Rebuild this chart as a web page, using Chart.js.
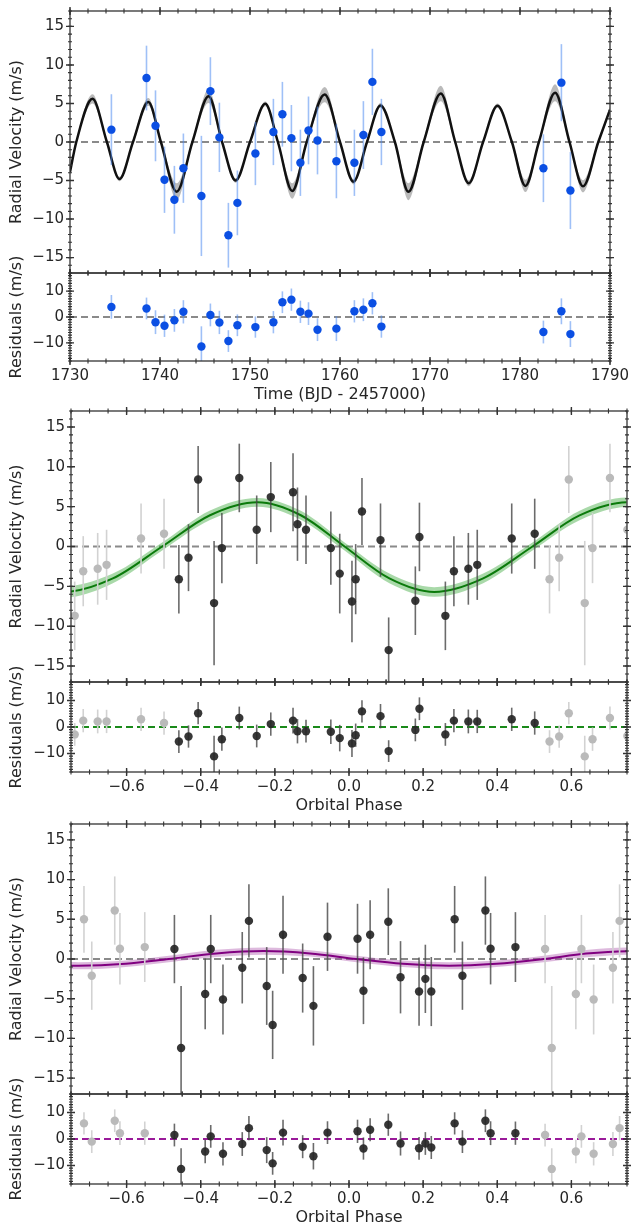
<!DOCTYPE html>
<html>
<head>
<meta charset="utf-8">
<script src="https://cdn.jsdelivr.net/npm/chart.js@4.4.0/dist/chart.umd.min.js"></script>
<style>
  body { margin: 0; background: #fff; }
  #wrap { position: relative; width: 632px; height: 1227px; overflow: hidden; }
  canvas { position: absolute; left: 0; }
</style>
</head>
<body>
<div id="wrap">
  <canvas id="rvTime"></canvas>
  <canvas id="resTime"></canvas>
  <canvas id="rvB"></canvas>
  <canvas id="resB"></canvas>
  <canvas id="rvC"></canvas>
  <canvas id="resC"></canvas>
</div>
<script>
// ---- top panel: RV vs time ----
const timeT = [1734.6, 1738.5, 1739.5, 1740.5, 1741.6, 1742.6, 1744.6, 1745.6, 1746.6, 1747.6, 1748.6, 1750.6, 1752.6,
  1753.6, 1754.6, 1755.6, 1756.5, 1757.5, 1759.6, 1761.6, 1762.6, 1763.6, 1764.6, 1782.6, 1784.6, 1785.6];
const timeRV = [1.6, 8.3, 2.1, -4.9, -7.5, -3.4, -7.0, 6.6, 0.6, -12.1, -7.9, -1.5, 1.3,
  3.6, 0.5, -2.7, 1.5, 0.2, -2.5, -2.7, 0.9, 7.8, 1.3, -3.4, 7.7, -6.3];
const timeErr = [4.6, 4.2, 4.6, 4.3, 4.4, 4.5, 7.8, 4.4, 4.5, 4.2, 4.2, 4.1, 4.3,
  4.2, 4.3, 4.3, 4.4, 4.4, 4.8, 4.3, 4.4, 4.3, 4.3, 4.4, 5.0, 5.0];
const timeRes = [3.9, 3.3, -2.0, -3.4, -1.3, 2.0, -11.4, 0.8, -2.1, -9.3, -3.2, -3.9, -2.0,
  5.7, 6.7, 2.0, 1.3, -4.9, -4.5, 2.2, 2.8, 5.3, -3.7, -5.8, 2.2, -6.6];

// two-planet model (extrema and zero crossings)
const modelT = [1730, 1730.7, 1732.5, 1734.1, 1735.5, 1737.0, 1738.7, 1740.1, 1741.85, 1743.6, 1745.4, 1746.9, 1748.4,
  1750.0, 1751.7, 1753.1, 1754.7, 1756.3, 1758.3, 1760.0, 1761.5, 1763.0, 1764.5, 1766.1, 1767.6, 1769.3, 1771.2,
  1772.8, 1774.3, 1775.9, 1777.5, 1779.1, 1780.6, 1782.1, 1783.9, 1785.5, 1787.0, 1788.7, 1790];
const modelRV = [-3.9, 0, 5.6, 0, -4.8, 0, 5.2, 0, -6.45, 0, 5.95, 0, -5.0,
  0, 4.95, 0, -6.35, 0, 6.15, 0, -5.15, 0, 4.75, 0, -6.45, 0, 6.3,
  0, -5.35, 0, 4.7, 0, -5.7, 0, 6.4, 0, -5.75, 0, 4.2];
const modelBand = [0.4, 0.3, 0.6, 0.3, 0.3, 0.3, 0.5, 0.3, 1.1, 0.3, 0.9, 0.3, 0.3,
  0.3, 0.3, 0.3, 1.0, 0.3, 1.0, 0.3, 0.35, 0.3, 0.3, 0.3, 1.1, 0.3, 1.0,
  0.3, 0.4, 0.3, 0.3, 0.3, 0.8, 0.3, 1.1, 0.3, 0.8, 0.3, 0.4];

// ---- middle panel: phase fold, planet b ----
const phaseB = [-0.459, -0.433, -0.407, -0.364, -0.343, -0.296, -0.249, -0.211, -0.151, -0.139, -0.116, -0.049, -0.025,
  0.008, 0.018, 0.035, 0.085, 0.107, 0.179, 0.190, 0.260, 0.283, 0.322, 0.346, 0.439, 0.501];
const rvB = [-4.1, -1.4, 8.4, -7.1, -0.2, 8.6, 2.1, 6.2, 6.8, 2.8, 2.1, -0.2, -3.4,
  -6.9, -4.1, 4.4, 0.8, -13.0, -6.8, 1.2, -8.7, -3.1, -2.8, -2.3, 1.0, 1.6];
const errB = [4.3, 4.2, 4.2, 7.8, 4.4, 4.3, 4.3, 4.4, 4.9, 4.6, 4.3, 4.6, 5.0,
  5.1, 4.4, 4.2, 4.6, 4.1, 4.3, 4.3, 4.3, 4.4, 4.5, 4.4, 4.4, 4.4];
const resB = [-5.5, -3.6, 5.2, -11.1, -4.6, 3.4, -3.4, 1.1, 2.4, -1.6, -1.6, -1.8, -4.2,
  -6.2, -3.1, 5.9, 4.1, -9.1, -1.1, 6.9, -2.8, 2.4, 2.1, 2.1, 2.9, 1.5];
// model b read at its extrema, zero crossings and half-way points (first/last lie outside the axis)
const modelPhaseB = [-0.891, -0.77, -0.637, -0.504, -0.375, -0.247, -0.13, -0.012, 0.109, 0.23, 0.362, 0.495, 0.622, 0.753, 0.87];
const modelRvB = [-4.0, -5.7, -4.0, 0, 3.92, 5.55, 3.92, 0, -4.0, -5.7, -4.0, 0, 3.9, 5.55, 3.92];
const modelBandB = [0.6, 0.7, 0.6, 0.5, 0.6, 0.55, 0.55, 0.5, 0.6, 0.6, 0.6, 0.5, 0.6, 0.6, 0.55];

// ---- bottom panel: phase fold, planet c ----
const phaseC = [-0.471, -0.453, -0.388, -0.373, -0.340, -0.288, -0.270, -0.222, -0.206, -0.178, -0.125, -0.096, -0.058,
  0.023, 0.039, 0.057, 0.106, 0.139, 0.189, 0.206, 0.222, 0.285, 0.306, 0.368, 0.382, 0.449];
const rvC = [1.25, -11.2, -4.4, 1.25, -5.1, -1.1, 4.8, -3.4, -8.3, 3.05, -2.4, -5.9, 2.8,
  2.55, -4.0, 3.05, 4.7, -2.3, -4.1, -2.5, -4.1, 5.0, -2.1, 6.1, 1.3, 1.5];
const errC = [4.3, 7.8, 4.45, 4.3, 4.4, 4.5, 4.6, 4.9, 4.3, 4.9, 4.35, 5.0, 4.3,
  4.4, 4.2, 4.35, 4.2, 4.55, 4.3, 4.3, 4.35, 4.2, 4.3, 4.3, 4.5, 4.4];
const resC = [1.5, -11.3, -4.7, 1.0, -5.6, -1.9, 4.1, -4.2, -9.2, 2.4, -2.9, -6.5, 2.4,
  2.9, -3.6, 3.5, 5.4, -1.7, -3.5, -1.7, -3.2, 5.9, -1.0, 6.9, 2.2, 2.2];
const modelPhaseC = [-0.855, -0.73, -0.602, -0.486, -0.358, -0.23, -0.105, 0.02, 0.145, 0.27, 0.398, 0.525, 0.64, 0.77, 0.895];
const modelRvC = [-0.6, -0.85, -0.6, 0, 0.7, 1.0, 0.7, 0, -0.6, -0.85, -0.6, 0, 0.68, 1.0, 0.7];
const modelBandC = [0.4, 0.45, 0.4, 0.4, 0.45, 0.45, 0.4, 0.4, 0.4, 0.45, 0.4, 0.4, 0.45, 0.45, 0.4];

// ticks
const timeTicks = [1730, 1740, 1750, 1760, 1770, 1780, 1790];
const timeTickLabels = ['1730', '1740', '1750', '1760', '1770', '1780', '1790'];
const phaseTicks = [-0.6, -0.4, -0.2, 0.0, 0.2, 0.4, 0.6];
const phaseTickLabels = ['\u22120.6', '\u22120.4', '\u22120.2', '0.0', '0.2', '0.4', '0.6'];
const rvTicks = [-15, -10, -5, 0, 5, 10, 15];
const rvTickLabels = ['\u221215', '\u221210', '\u22125', '0', '5', '10', '15'];
const resTicks = [-10, 0, 10];
const resTickLabels = ['\u221210', '0', '10'];

Chart.defaults.font.family = "'DejaVu Sans', sans-serif";
Chart.defaults.font.size = 15;
Chart.defaults.color = '#262626';

// box + in/out ticks on all four sides
const framePlugin = {
  id: 'frame',
  afterDraw(chart, args, o) {
    const { ctx, chartArea: a, scales: { x, y } } = chart;
    ctx.save();
    ctx.strokeStyle = '#333';
    ctx.lineWidth = 1.3;
    ctx.strokeRect(a.left, a.top, a.right - a.left, a.bottom - a.top);
    ctx.lineWidth = 1.1;
    const steps = (min, max, step) => {
      const out = [];
      for (let n = Math.ceil(min / step - 1e-6); n <= Math.floor(max / step + 1e-6); n++) out.push(n * step);
      return out;
    };
    const xt = (v, len) => {
      const px = x.getPixelForValue(v);
      ctx.beginPath();
      ctx.moveTo(px, a.top - len); ctx.lineTo(px, a.top + len);
      ctx.moveTo(px, a.bottom - len); ctx.lineTo(px, a.bottom + len);
      ctx.stroke();
    };
    const yt = (v, len) => {
      const py = y.getPixelForValue(v);
      ctx.beginPath();
      ctx.moveTo(a.left - len, py); ctx.lineTo(a.left + len, py);
      ctx.moveTo(a.right - len, py); ctx.lineTo(a.right + len, py);
      ctx.stroke();
    };
    steps(x.min, x.max, o.xMinor).forEach(v => xt(v, 2.5));
    steps(y.min, y.max, o.yMinor).forEach(v => yt(v, 2));
    ctx.lineWidth = 1.4;
    o.xMajor.forEach(v => xt(v, 4));
    o.yMajor.forEach(v => yt(v, 4));
    ctx.restore();
  }
};

const zeroPlugin = {
  id: 'zeroLine',
  beforeDatasetsDraw(chart, args, o) {
    const { ctx, chartArea: a, scales: { y } } = chart;
    const py = y.getPixelForValue(0);
    ctx.save();
    ctx.strokeStyle = o.color;
    ctx.lineWidth = o.width;
    ctx.setLineDash([7, 4]);
    ctx.beginPath();
    ctx.moveTo(a.left, py); ctx.lineTo(a.right, py);
    ctx.stroke();
    ctx.restore();
  }
};

// vertical error bars for datasets carrying an errs array
const errPlugin = {
  id: 'errbars',
  beforeDatasetDraw(chart, args) {
    const ds = chart.data.datasets[args.index];
    if (!ds.errs) return;
    const { ctx, chartArea: a, scales: { x, y } } = chart;
    ctx.save();
    ctx.beginPath();
    ctx.rect(a.left, a.top, a.right - a.left, a.bottom - a.top);
    ctx.clip();
    ctx.strokeStyle = ds.errColor;
    ctx.lineWidth = 1.6;
    ds.data.forEach((pt, i) => {
      const px = x.getPixelForValue(pt.x);
      ctx.beginPath();
      ctx.moveTo(px, y.getPixelForValue(pt.y - ds.errs[i]));
      ctx.lineTo(px, y.getPixelForValue(pt.y + ds.errs[i]));
      ctx.stroke();
    });
    ctx.restore();
  }
};

function makeChart(id, p) {
  const cv = document.getElementById(id);
  cv.width = 632;
  cv.height = p.h;
  cv.style.top = p.top + 'px';
  const showX = !!p.xTitle;
  const xAxisH = showX ? p.top + p.h - p.plotBottom : 0;
  const padBottom = showX ? 0 : p.top + p.h - p.plotBottom;
  return new Chart(cv, {
    type: 'scatter',
    data: { datasets: p.datasets },
    options: {
      responsive: false,
      animation: false,
      devicePixelRatio: 1,
      layout: { padding: { top: p.plotTop - p.top, bottom: padBottom, left: 0, right: 632 - p.plotRight } },
      plugins: {
        legend: { display: false },
        tooltip: { enabled: false },
        frame: { xMajor: p.xTicks, xMinor: p.xMinor, yMajor: p.yTicks, yMinor: 1 },
        zeroLine: { color: p.zeroColor, width: p.zeroWidth }
      },
      scales: {
        x: {
          type: 'linear', min: p.xMin, max: p.xMax, bounds: 'data', display: showX,
          grid: { display: false, drawTicks: true, tickLength: 4 },
          border: { display: false },
          afterBuildTicks: s => { s.ticks = p.xTicks.map(v => ({ value: v })); },
          afterFit: s => { s.height = xAxisH; },
          ticks: { autoSkip: false, maxRotation: 0, padding: 2, callback: (v, i) => p.xLabels[i] },
          title: { display: showX, text: p.xTitle, font: { size: 16 }, padding: { top: 0, bottom: 4.4 } }
        },
        y: {
          type: 'linear', min: -17, max: 17, bounds: 'data',
          grid: { display: false, drawTicks: true, tickLength: 4 },
          border: { display: false },
          afterBuildTicks: s => { s.ticks = p.yTicks.map(v => ({ value: v })); },
          afterFit: s => { s.width = p.plotLeft; },
          ticks: { autoSkip: false, padding: 2, callback: (v, i) => p.yLabels[i] },
          title: { display: true, text: p.yTitle, font: { size: 16 }, padding: { top: 7, bottom: 0 } }
        }
      }
    },
    plugins: [zeroPlugin, errPlugin, framePlugin]
  });
}

function modelSets(xs, ys, band, lineColor, fillColor, lineWidth) {
  const pts = (k) => xs.map((v, i) => ({ x: v, y: ys[i] + k * band[i] }));
  const common = { type: 'line', pointRadius: 0, cubicInterpolationMode: 'monotone' };
  return [
    Object.assign({}, common, { data: pts(1), borderWidth: 0, fill: false, order: 5 }),
    Object.assign({}, common, { data: pts(-1), borderWidth: 0, fill: '-1', backgroundColor: fillColor, order: 5 }),
    Object.assign({}, common, { data: pts(0), borderWidth: lineWidth, borderColor: lineColor, fill: false, order: 4 })
  ];
}

function pointSet(data, errs, color, errColor, order) {
  return { type: 'scatter', data, errs, errColor, pointRadius: 4.2, pointBackgroundColor: color,
    backgroundColor: color, pointBorderWidth: 0, borderWidth: 0, order };
}

// duplicate points one cycle left/right so the fold covers -0.75..0.75
function fold(ph, vals, errs) {
  const dark = [], darkErr = [], grey = [], greyErr = [];
  ph.forEach((p, i) => {
    dark.push({ x: p, y: vals[i] });
    darkErr.push(errs[i]);
    [-1, 1].forEach(s => {
      const q = p + s;
      if (q >= -0.76 && q <= 0.76) { grey.push({ x: q, y: vals[i] }); greyErr.push(errs[i]); }
    });
  });
  return { dark, darkErr, grey, greyErr };
}

const DARK = 'rgba(38,38,38,0.92)', DARK_ERR = 'rgba(70,70,70,0.8)';
const GREY = '#bababa', GREY_ERR = '#d2d2d2';

// top panel
makeChart('rvTime', {
  top: 0, h: 288, plotTop: 11, plotBottom: 273, plotLeft: 70, plotRight: 610,
  xMin: 1730, xMax: 1790, xTicks: timeTicks, xLabels: timeTickLabels, xMinor: 2,
  yTicks: rvTicks, yLabels: rvTickLabels, yTitle: 'Radial Velocity (m/s)',
  zeroColor: '#8a8a8a', zeroWidth: 1.8,
  datasets: modelSets(modelT, modelRV, modelBand, '#111', 'rgba(140,140,140,0.6)', 2.5).concat([
    pointSet(timeT.map((t, i) => ({ x: t, y: timeRV[i] })), timeErr, '#0b4fe3', 'rgba(80,140,240,0.55)', 1)
  ])
});
makeChart('resTime', {
  top: 230, h: 179, plotTop: 273, plotBottom: 361, plotLeft: 70, plotRight: 610,
  xMin: 1730, xMax: 1790, xTicks: timeTicks, xLabels: timeTickLabels, xMinor: 2,
  xTitle: 'Time (BJD - 2457000)',
  yTicks: resTicks, yLabels: resTickLabels, yTitle: 'Residuals (m/s)',
  zeroColor: '#8a8a8a', zeroWidth: 1.8,
  datasets: [pointSet(timeT.map((t, i) => ({ x: t, y: timeRes[i] })), timeErr, '#0b4fe3', 'rgba(80,140,240,0.55)', 1)]
});

// middle panel
const fB = fold(phaseB, rvB, errB);
const fBr = fold(phaseB, resB, errB);
makeChart('rvB', {
  top: 398, h: 298, plotTop: 411, plotBottom: 682, plotLeft: 71, plotRight: 627,
  xMin: -0.75, xMax: 0.75, xTicks: phaseTicks, xLabels: phaseTickLabels, xMinor: 0.05,
  yTicks: rvTicks, yLabels: rvTickLabels, yTitle: 'Radial Velocity (m/s)',
  zeroColor: '#8a8a8a', zeroWidth: 1.8,
  datasets: modelSets(modelPhaseB, modelRvB, modelBandB, '#0b7a0b', 'rgba(40,160,40,0.4)', 2).concat([
    pointSet(fB.grey, fB.greyErr, GREY, GREY_ERR, 2),
    pointSet(fB.dark, fB.darkErr, DARK, DARK_ERR, 1)
  ])
});
makeChart('resB', {
  top: 640, h: 180, plotTop: 682, plotBottom: 772, plotLeft: 71, plotRight: 627,
  xMin: -0.75, xMax: 0.75, xTicks: phaseTicks, xLabels: phaseTickLabels, xMinor: 0.05,
  xTitle: 'Orbital Phase',
  yTicks: resTicks, yLabels: resTickLabels, yTitle: 'Residuals (m/s)',
  zeroColor: '#1a8a1a', zeroWidth: 2.2,
  datasets: [
    pointSet(fBr.grey, fBr.greyErr, GREY, GREY_ERR, 2),
    pointSet(fBr.dark, fBr.darkErr, DARK, DARK_ERR, 1)
  ]
});

// bottom panel
const fC = fold(phaseC, rvC, errC);
const fCr = fold(phaseC, resC, errC);
makeChart('rvC', {
  top: 811, h: 298, plotTop: 824, plotBottom: 1094, plotLeft: 71, plotRight: 627,
  xMin: -0.75, xMax: 0.75, xTicks: phaseTicks, xLabels: phaseTickLabels, xMinor: 0.05,
  yTicks: rvTicks, yLabels: rvTickLabels, yTitle: 'Radial Velocity (m/s)',
  zeroColor: '#8a8a8a', zeroWidth: 1.8,
  datasets: modelSets(modelPhaseC, modelRvC, modelBandC, '#800080', 'rgba(170,80,170,0.4)', 2).concat([
    pointSet(fC.grey, fC.greyErr, GREY, GREY_ERR, 2),
    pointSet(fC.dark, fC.darkErr, DARK, DARK_ERR, 1)
  ])
});
makeChart('resC', {
  top: 1050, h: 182, plotTop: 1094, plotBottom: 1184, plotLeft: 71, plotRight: 627,
  xMin: -0.75, xMax: 0.75, xTicks: phaseTicks, xLabels: phaseTickLabels, xMinor: 0.05,
  xTitle: 'Orbital Phase',
  yTicks: resTicks, yLabels: resTickLabels, yTitle: 'Residuals (m/s)',
  zeroColor: '#9a1a9a', zeroWidth: 2.2,
  datasets: [
    pointSet(fCr.grey, fCr.greyErr, GREY, GREY_ERR, 2),
    pointSet(fCr.dark, fCr.darkErr, DARK, DARK_ERR, 1)
  ]
});
</script>
</body>
</html>
